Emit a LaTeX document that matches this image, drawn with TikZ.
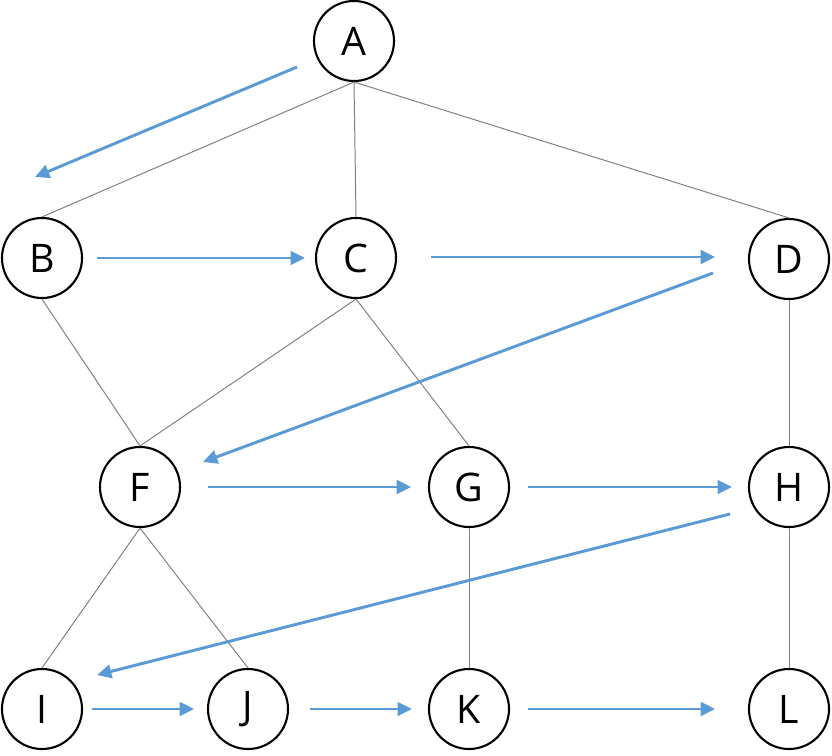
\documentclass[tikz,border=0pt]{standalone}
\usepackage{fontspec}
\setmainfont{Open Sans}
\usetikzlibrary{arrows.meta,calc}
\definecolor{cBlue}{RGB}{91,155,213}
\definecolor{cGray}{RGB}{128,128,128}
\tikzset{
    vtx/.style={circle, draw=black, line width=1.5pt, fill=white,
        minimum size=2.0cm, inner sep=0pt,
        font=\fontsize{28}{30}\selectfont},
    edge/.style={draw=cGray, line width=0.7pt},
    arr/.style={-{Triangle[length=3.6mm,width=3.4mm]}, line width=2.1pt, draw=cBlue, fill=cBlue},
}
\begin{document}
\begin{tikzpicture}[x=0.025cm, y=-0.025cm]
\useasboundingbox (0,0) rectangle (832,755);

% ================================================================
%  VERTICES
% ================================================================
\node[vtx] (A) at (354,41)  {A};
\node[vtx] (B) at (42,258)  {B};
\node[vtx] (C) at (356,258) {C};
\node[vtx] (D) at (789,259) {D};
\node[vtx] (F) at (140,487) {F};
\node[vtx] (G) at (469,487) {G};
\node[vtx] (H) at (789,487) {H};
\node[vtx] (I) at (42,709)  {I};
\node[vtx] (J) at (248,709) {J};
\node[vtx] (K) at (469,709) {K};
\node[vtx] (L) at (789,709) {L};

% ================================================================
%  TREE EDGES (thin gray)
% ================================================================
\draw[edge] (A.south) -- (B.north);
\draw[edge] (A.south) -- (C.north);
\draw[edge] (A.south) -- (D.north);
\draw[edge] (B.south) -- (F.north);
\draw[edge] (C.south) -- (F.north);
\draw[edge] (C.south) -- (G.north);
\draw[edge] (D.south) -- (H.north);
\draw[edge] (F.south) -- (I.north);
\draw[edge] (F.south) -- (J.north);
\draw[edge] (G.south) -- (K.north);
\draw[edge] (H.south) -- (L.north);

% ================================================================
%  TRAVERSAL ORDER (blue arrows)
% ================================================================
% free ends of the slanted arrows
\coordinate (a1s) at ($(A)+(-57,26)$);
\coordinate (a1e) at ($(B)+(-7,-81)$);
\coordinate (a4s) at ($(D)+(-76,14)$);
\coordinate (a4e) at ($(F)+(63,-25)$);
\coordinate (a7s) at ($(H)+(-59,27)$);
\coordinate (a7e) at ($(I)+(55,-34)$);

\draw[arr] (a1s) -- (a1e);
\draw[arr, shorten <=0.35cm, shorten >=0.25cm] (B.east) -- (C.west);
\draw[arr, shorten <=0.85cm, shorten >=0.82cm] ($(C.east)+(0,-1)$) -- ($(D.west)+(0,-2)$);
\draw[arr] (a4s) -- (a4e);
\draw[arr, shorten <=0.67cm, shorten >=0.42cm] (F.east) -- (G.west);
\draw[arr, shorten <=0.45cm, shorten >=0.40cm] (G.east) -- (H.west);
\draw[arr] (a7s) -- (a7e);
\draw[arr, shorten <=0.22cm, shorten >=0.32cm] (I.east) -- (J.west);
\draw[arr, shorten <=0.52cm, shorten >=0.40cm] (J.east) -- (K.west);
\draw[arr, shorten <=0.45cm, shorten >=0.82cm] (K.east) -- (L.west);

\end{tikzpicture}
\end{document}
